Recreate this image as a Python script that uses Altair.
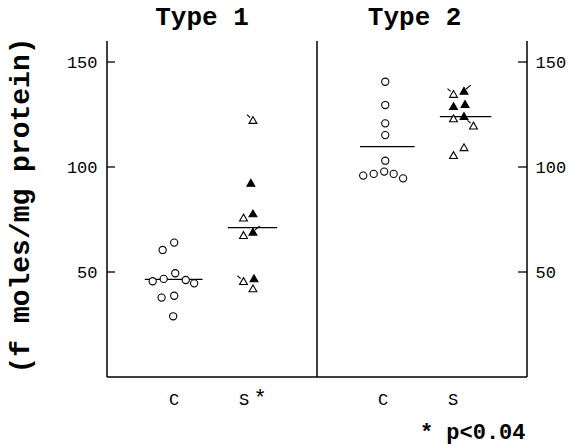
import altair as alt
import pandas as pd

FONT = "Liberation Mono"

# ---- data ----
c1_x = [0.53, 0.64, 0.435, 0.54, 0.65, 0.75, 0.83, 0.52, 0.64, 0.63]
c1_y = [60.5, 64.0, 45.6, 46.7, 49.4, 46.2, 44.6, 37.8, 38.7, 28.9]

s1_x = [1.39, 1.37, 1.30, 1.39, 1.30, 1.39, 1.30, 1.40, 1.39]
s1_y = [122.4, 92.5, 75.9, 77.9, 67.6, 69.2, 45.7, 47.0, 42.2]
s1_fill = ["open", "filled", "open", "filled", "open", "filled", "open", "filled", "open"]
s1_flag = ["ul", "", "", "", "", "ur", "ul", "", ""]

c2_x = [2.65, 2.65, 2.65, 2.65, 2.65, 2.44, 2.54, 2.64, 2.73, 2.82]
c2_y = [140.6, 129.5, 120.8, 115.2, 103.0, 95.9, 96.7, 97.8, 96.7, 94.6]

s2_x = [3.30, 3.40, 3.30, 3.41, 3.30, 3.40, 3.49, 3.30, 3.40]
s2_y = [134.8, 136.3, 129.0, 130.0, 123.2, 124.3, 119.7, 105.7, 109.4]
s2_fill = ["open", "filled", "filled", "filled", "open", "filled", "open", "open", "open"]
s2_flag = ["ul", "ur", "", "", "", "", "ul", "", ""]

median_x1 = [0.36, 1.15, 2.41, 3.17]
median_x2 = [0.91, 1.62, 2.93, 3.66]
median_y = [46.5, 71.1, 109.7, 124.0]

panel_titles = ["Type 1", "Type 2"]
panel_title_x = [0.905, 2.93]

group_labels = ["C", "S", "C", "S"]
group_label_x = [0.638, 1.305, 2.63, 3.295]

y_ticks = [50, 100, 150]
frame_x = [0, 2, 4]
y_top = 160
x_max = 4

# ---- tables ----
pts = pd.DataFrame(
    {
        "x": c1_x + s1_x + c2_x + s2_x,
        "y": c1_y + s1_y + c2_y + s2_y,
        "kind": ["circle"] * len(c1_x) + ["triangle"] * len(s1_x)
        + ["circle"] * len(c2_x) + ["triangle"] * len(s2_x),
        "fill": ["open"] * len(c1_x) + s1_fill + ["open"] * len(c2_x) + s2_fill,
        "flag": [""] * len(c1_x) + s1_flag + [""] * len(c2_x) + s2_flag,
    }
)
flags_ul = pts[pts["flag"] == "ul"]
flags_ur = pts[pts["flag"] == "ur"]
med = pd.DataFrame({"x": median_x1, "x2": median_x2, "y": median_y})
vlines = pd.DataFrame({"x": frame_x, "y": [0] * 3, "y2": [y_top] * 3})
hline = pd.DataFrame({"x": [0], "x2": [x_max], "y": [0]})
lticks = pd.DataFrame({"x": [0] * 3, "x2": [0.076] * 3, "y": y_ticks})
rticks = pd.DataFrame({"x": [x_max - 0.085] * 3, "x2": [x_max] * 3, "y": y_ticks})
titles = pd.DataFrame({"x": panel_title_x, "t": panel_titles})
glabels = pd.DataFrame({"x": group_label_x, "t": group_labels})
star = pd.DataFrame({"x": [1.457], "t": ["*"]})
foot = pd.DataFrame({"x": [2.98], "t": ["* p<0.04"]})

xs = alt.Scale(domain=[0, x_max], nice=False, zero=False)
ys = alt.Scale(domain=[0, y_top], nice=False, zero=True)
X = lambda f="x": alt.X(f + ":Q", scale=xs, axis=None)

left_axis = alt.Axis(
    values=y_ticks, ticks=False, domain=False, grid=False, labelPadding=10,
    labelFont=FONT, labelFontSize=17, labelColor="black",
    title="(f moles/mg protein)", titleFont=FONT, titleFontSize=28,
    titleFontWeight="bold", titleColor="black", titleAngle=-90,
    titleX=-79, titleY=164, titleAlign="center", titleBaseline="alphabetic",
)
right_axis = alt.Axis(
    orient="right", values=y_ticks, ticks=False, domain=False, grid=False,
    labelPadding=8, labelFont=FONT, labelFontSize=17, labelColor="black", title=None,
)

points = alt.Chart(pts).mark_point(
    filled=True, stroke="black", strokeWidth=1.1, opacity=1
).encode(
    x=X(),
    y=alt.Y("y:Q", scale=ys, axis=left_axis),
    shape=alt.Shape("kind:N", scale=alt.Scale(domain=["circle", "triangle"],
                                              range=["circle", "triangle-up"]), legend=None),
    size=alt.Size("kind:N", scale=alt.Scale(domain=["circle", "triangle"],
                                            range=[52, 62]), legend=None),
    fill=alt.Fill("fill:N", scale=alt.Scale(domain=["open", "filled"],
                                            range=["white", "black"]), legend=None),
)

flag_ul = alt.Chart(flags_ul).mark_point(
    shape="M-1.7,-1.5L-0.8,-0.7", filled=False, stroke="black",
    strokeWidth=1.1, size=50, opacity=1
).encode(x=X(), y=alt.Y("y:Q", scale=ys, axis=None))

flag_ur = alt.Chart(flags_ur).mark_point(
    shape="M1.9,-1.6L0.6,-0.5", filled=False, stroke="black",
    strokeWidth=1.1, size=50, opacity=1
).encode(x=X(), y=alt.Y("y:Q", scale=ys, axis=None))

medians = alt.Chart(med).mark_rule(color="black", strokeWidth=1.3).encode(
    x=X(), x2="x2:Q", y=alt.Y("y:Q", scale=ys, axis=None)
)
frame_v = alt.Chart(vlines).mark_rule(color="black", strokeWidth=1.5).encode(
    x=X(), y=alt.Y("y:Q", scale=ys, axis=None), y2="y2:Q"
)
frame_h = alt.Chart(hline).mark_rule(color="black", strokeWidth=1.5).encode(
    x=X(), x2="x2:Q", y=alt.Y("y:Q", scale=ys, axis=None)
)
ticks_l = alt.Chart(lticks).mark_rule(color="black", strokeWidth=1.3).encode(
    x=X(), x2="x2:Q", y=alt.Y("y:Q", scale=ys, axis=None)
)
ticks_r = alt.Chart(rticks).mark_rule(color="black", strokeWidth=1.3).encode(
    x=X(), x2="x2:Q", y=alt.Y("y:Q", scale=ys, axis=right_axis)
)

title_txt = alt.Chart(titles).mark_text(
    font=FONT, fontSize=26, fontWeight="bold", color="black",
    align="center", baseline="alphabetic"
).encode(x=X(), y=alt.value(-16), text="t:N")

label_txt = alt.Chart(glabels).mark_text(
    font=FONT, fontSize=17, color="black", align="center", baseline="alphabetic"
).encode(x=X(), y=alt.value(364), text="t:N")

star_txt = alt.Chart(star).mark_text(
    font=FONT, fontSize=22, color="black", align="center", baseline="alphabetic"
).encode(x=X(), y=alt.value(364), text="t:N")

foot_txt = alt.Chart(foot).mark_text(
    font=FONT, fontSize=22, fontWeight="bold", color="black",
    align="left", baseline="alphabetic"
).encode(x=X(), y=alt.value(398), text="t:N")

chart = (
    alt.layer(frame_v, frame_h, ticks_l, ticks_r, medians, points, flag_ul, flag_ur,
              title_txt, label_txt, star_txt, foot_txt)
    .resolve_scale(y="shared", x="shared")
    .resolve_axis(y="independent")
    .properties(
        width=420, height=336,
        autosize=alt.AutoSizeParams(type="none"),
        padding={"left": 107, "top": 41, "right": 57, "bottom": 71},
        background="white",
    )
    .configure_view(stroke=None)
)

chart.save("out.html", embed_options={"renderer": "svg", "actions": False})
